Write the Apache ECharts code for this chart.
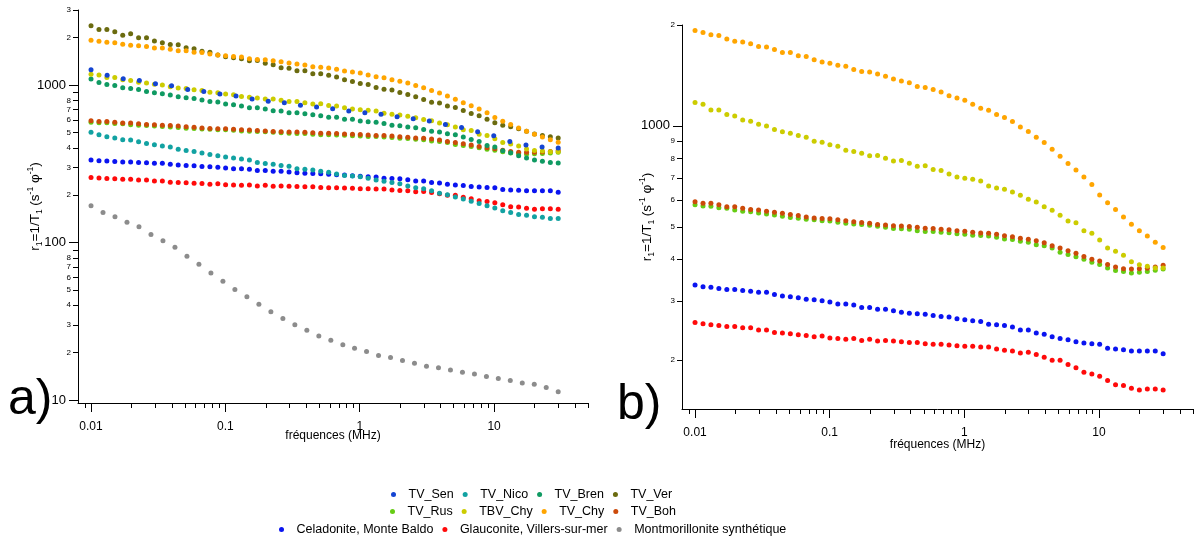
<!DOCTYPE html>
<html><head><meta charset="utf-8">
<script src="https://cdn.jsdelivr.net/npm/echarts@6/dist/echarts.min.js"></script>
<style>html,body{margin:0;padding:0;background:#fff}#c{width:1195px;height:542px}</style>
</head><body><div id="c"></div>
<script>
// ---- frequencies (MHz) ----
const freq60 = [0.01,0.01146,0.01312,0.01503,0.01722,0.01972,0.02259,0.02588,0.02964,0.03396,
  0.0389,0.04456,0.05104,0.05847,0.06697,0.07672,0.08788,0.1004,0.115,0.1318,
  0.151,0.1729,0.1981,0.2269,0.2599,0.2977,0.3411,0.3907,0.4475,0.5126,
  0.5872,0.6726,0.7705,0.8826,1.009,1.155,1.324,1.516,1.737,1.989,
  2.279,2.61,2.99,3.425,3.924,4.495,5.148,5.898,6.756,7.739,
  8.864,10.13,11.6,13.29,15.23,17.44,19.98,22.89,26.22,30];
const freq30 = [0.01,0.01318,0.01737,0.0229,0.03018,0.03977,0.05242,0.06908,0.09105,0.12,
  0.1581,0.2084,0.2747,0.3621,0.4772,0.6289,0.8289,1.092,1.44,1.897,
  2.5,3.295,4.343,5.724,7.544,9.943,13.1,17.27,22.76,30];
const freq40 = [0.01,0.01228,0.01508,0.01852,0.02275,0.02794,0.03431,0.04214,0.05175,0.06356,
  0.07806,0.09587,0.1177,0.1446,0.1776,0.2181,0.2679,0.329,0.404,0.4962,
  0.6094,0.7484,0.915,1.124,1.38,1.695,2.081,2.556,3.139,3.855,
  4.735,5.815,7.142,8.771,10.75,13.2,16.21,19.91,24.44,30];

// ---- r1 values ----
const tvSen = [1251,1157,1096,1071,1019,990,939,912,877,852,
  815,791,772,746,725,707,684,667,652,629,
  611,591,563,539,505,476,439,416,404,398];
const tvNico = [501,484,470,461,449,448,437,426,418,410,
  404,391,385,379,370,363,356,350,345,339,
  334,323,318,314,309,305,294,292,289,284,
  280,273,267,265,262,256,250,245,241,236,
  229,223,220,213,206,201,195,189,183,177,
  171,166,159,155,151,149,146,145,142,142];
const tvBren = [1092,1040,1010,996,961,953,939,912,894,881,
  864,843,831,823,803,788,780,758,750,736,
  718,718,704,687,684,667,667,657,648,638,
  624,624,608,606,591,585,580,571,557,551,
  541,536,523,510,503,491,484,468,452,439,
  414,404,383,372,356,344,335,329,323,320];
const tvVer = [2379,2258,2258,2180,2077,2117,1997,1997,1903,1856,
  1813,1803,1725,1700,1644,1620,1551,1513,1491,1469,
  1427,1435,1379,1346,1288,1282,1232,1232,1183,1180,
  1157,1124,1080,1055,1025,1010,967,943,930,899,
  873,843,811,777,769,736,722,691,661,638,
  606,576,557,543,528,510,489,479,470,461];
const tvRus = [582,577,576,570,568,561,556,554,550,546,
  542,538,533,530,527,525,521,520,516,512,
  510,508,505,502,498,494,493,492,487,484,
  484,482,480,477,475,472,471,469,465,460,
  458,453,450,442,439,432,420,413,407,400,
  392,386,377,370,368,364,366,368,371,374];
const tbvChy = [1174,1161,1116,1116,1081,1071,1042,1033,1012,1000,
  975,960,951,936,925,900,894,878,870,846,
  838,829,815,816,801,786,788,774,758,761,
  741,736,718,704,698,693,685,662,653,647,
  635,621,604,593,574,560,541,520,514,487,
  478,457,432,423,411,393,385,381,377,377];
const tvChy = [1925,1898,1869,1860,1818,1789,1781,1757,1724,1718,
  1690,1655,1655,1618,1610,1574,1552,1539,1518,1507,
  1473,1453,1447,1428,1407,1381,1362,1344,1310,1301,
  1283,1263,1231,1212,1193,1161,1129,1114,1081,1059,
  1030,993,962,925,892,852,812,772,739,704,
  668,622,590,563,535,509,487,469,450,434];
const tvBoh = [594,588,588,582,574,574,568,563,561,556,
  553,549,544,540,535,531,529,528,525,521,
  518,515,512,508,506,504,503,501,498,495,
  494,492,490,487,485,482,479,478,475,470,
  467,462,459,454,448,439,432,424,417,408,
  400,395,386,379,375,374,375,376,379,384];
const celadonite = [335,331,330,327,325,325,323,321,319,319,
  314,311,309,307,304,303,301,298,294,294,
  292,287,287,284,284,281,278,276,275,274,
  272,270,269,266,264,262,261,256,255,254,
  251,246,246,241,239,235,232,230,227,225,
  224,223,217,216,215,213,213,213,213,209];
const glauconite = [259,257,255,254,252,252,250,250,246,246,
  242,241,240,238,237,235,236,233,232,231,
  232,229,231,228,229,228,227,226,226,224,
  223,223,222,221,220,220,219,219,216,214,
  213,210,211,208,204,200,200,194,190,184,
  182,179,174,169,168,165,163,164,164,163];
const montmorillonite = [171.3,155.4,145.8,134.4,125.8,112.7,102.7,93.2,81.8,72.7,
  64.0,56.7,50.4,45.3,40.5,36.4,32.9,30.1,27.7,25.5,
  24.0,22.4,21.3,20.3,19.2,18.6,17.8,17.1,16.4,16.0,
  15.5,15.0,14.6,14.1,13.7,13.3,12.8,12.6,12.0,11.3];

// ---- axis ticks ----
const xMajorTicks = [0.01,0.1,1,10];
const xMinorTicks = [0.009,0.02,0.03,0.04,0.05,0.06,0.07,0.08,0.09,0.2,0.3,0.4,0.5,0.6,0.7,0.8,0.9,2,3,4,5,6,7,8,9,20,30,40,50];
const yLeftMajor = [10,100,1000];
const yLeftMinorTicks = [20,30,40,50,60,70,80,90,200,300,400,500,600,700,800,900,2000,3000];
const yLeftMinorLabels = [20,30,40,50,60,70,80,200,300,400,500,600,700,800,2000,3000];
const yRightMajor = [1000];
const yRightMinorTicks = [200,300,400,500,600,700,800,900,2000];
const yRightMinorLabels = [200,300,400,500,600,700,800,900,2000];

const names = ['TV_Sen','TV_Nico','TV_Bren','TV_Ver','TV_Rus','TBV_Chy','TV_Chy','TV_Boh',
  'Celadonite, Monte Baldo','Glauconite, Villers-sur-mer','Montmorillonite synthétique'];
const colors = {
  'TV_Sen':'#1444d2','TV_Nico':'#12a2a2','TV_Bren':'#0f9a62','TV_Ver':'#6b6b0f',
  'TV_Rus':'#66cc14','TBV_Chy':'#cccc00','TV_Chy':'#ffa500','TV_Boh':'#cc4a0a',
  'Celadonite, Monte Baldo':'#0a14f0','Glauconite, Villers-sur-mer':'#ff0a0a',
  'Montmorillonite synthétique':'#8c8c8c'};

const FONT = '"Liberation Sans", Arial, Helvetica, sans-serif';
const L = Math.log10;
const X_MIN = 0.008, X_MAX = 50;
const YL_MIN = 9.57, YL_MAX = 3000;
const YR_MIN = 143, YR_MAX = 2000;

function pairs(f, v){ return f.map((x,i)=>[x, v[i]]); }
function fmtX(n){ return String(parseFloat(n.toPrecision(2))); }
function fmtBig(n){ return String(Math.round(n)); }
function fmtDigit(n){ const e = Math.floor(L(n) + 1e-9); return String(Math.round(n / Math.pow(10, e))); }

function mainAxis(dir, grid, mn, mx, extra){
  return Object.assign({
    type:'log', logBase:10, gridIndex:grid, min:mn, max:mx,
    position: dir==='x' ? 'bottom' : 'left',
    axisLine:{show:true, onZero:false, lineStyle:{color:'#000', width:1}},
    axisTick:{show:false}, axisLabel:{show:false}, splitLine:{show:false}, minorTick:{show:false}
  }, extra || {});
}
function tickAxis(dir, grid, mn, mx, ticks, labels, len, margin, fs, fmt){
  return {
    type:'value', gridIndex:grid, min:L(mn), max:L(mx),
    position: dir==='x' ? 'bottom' : 'left', offset:0,
    axisLine:{show:false, onZero:false},
    splitLine:{show:false},
    axisTick:{show:true, length:len, customValues: ticks.map(L), lineStyle:{color:'#000', width:1}},
    axisLabel:{show: labels.length > 0, customValues: labels.map(L), margin:margin,
      fontSize:fs, color:'#000', fontFamily:FONT,
      formatter: v => fmt(Math.pow(10, v))}
  };
}

const yName = '{n|r}{s|1}{n|=1/T}{s|1}{n| (s}{p|-1}{n| φ}{p|-1}{n|)}';
const yNameStyle = {
  color:'#000', fontFamily:FONT,
  rich:{
    n:{fontSize:13.5, lineHeight:18, fontFamily:FONT, color:'#000'},
    s:{fontSize:8.5, lineHeight:18, verticalAlign:'bottom', fontFamily:FONT, color:'#000'},
    p:{fontSize:8.5, lineHeight:18, verticalAlign:'top', fontFamily:FONT, color:'#000'}
  }
};
const xNameStyle = {color:'#000', fontSize:12, fontFamily:FONT};

const xAxis = [
  mainAxis('x', 0, X_MIN, X_MAX, {name:'fréquences (MHz)', nameLocation:'middle', nameGap:27, nameTextStyle:xNameStyle}),
  mainAxis('x', 1, X_MIN, X_MAX, {name:'fréquences (MHz)', nameLocation:'middle', nameGap:30, nameTextStyle:xNameStyle}),
  tickAxis('x', 0, X_MIN, X_MAX, xMajorTicks, xMajorTicks, 9, 18, 12, fmtX),
  tickAxis('x', 0, X_MIN, X_MAX, xMinorTicks, [], 5, 8, 8, fmtX),
  tickAxis('x', 1, X_MIN, X_MAX, xMajorTicks, xMajorTicks, 9, 18, 12, fmtX),
  tickAxis('x', 1, X_MIN, X_MAX, xMinorTicks, [], 5, 8, 8, fmtX)
];
const yAxis = [
  mainAxis('y', 0, YL_MIN, YL_MAX, {name:yName, nameLocation:'middle', nameGap:34, nameRotate:90, nameTextStyle:yNameStyle}),
  mainAxis('y', 1, YR_MIN, YR_MAX, {name:yName, nameLocation:'middle', nameGap:26, nameRotate:90, nameTextStyle:yNameStyle}),
  tickAxis('y', 0, YL_MIN, YL_MAX, yLeftMajor, yLeftMajor, 9, 12, 13, fmtBig),
  tickAxis('y', 0, YL_MIN, YL_MAX, yLeftMinorTicks, yLeftMinorLabels, 5, 7, 8, fmtDigit),
  tickAxis('y', 1, YR_MIN, YR_MAX, yRightMajor, yRightMajor, 9, 12, 13, fmtBig),
  tickAxis('y', 1, YR_MIN, YR_MAX, yRightMinorTicks, yRightMinorLabels, 5, 7, 8, fmtDigit)
];

function sc(name, grid, f, v, z){
  return {type:'scatter', name:name, xAxisIndex:grid, yAxisIndex:grid, data:pairs(f, v),
    symbol:'circle', symbolSize:5, itemStyle:{color:colors[name], opacity:1},
    z: z || 2, emphasis:{disabled:true}, silent:true};
}

const series = [
  // panel a
  sc('Montmorillonite synthétique', 0, freq40, montmorillonite),
  sc('Glauconite, Villers-sur-mer', 0, freq60, glauconite),
  sc('Celadonite, Monte Baldo', 0, freq60, celadonite),
  sc('TV_Nico', 0, freq60, tvNico),
  sc('TV_Rus', 0, freq60, tvRus),
  sc('TV_Boh', 0, freq60, tvBoh),
  sc('TV_Bren', 0, freq60, tvBren),
  sc('TBV_Chy', 0, freq60, tbvChy),
  sc('TV_Ver', 0, freq60, tvVer),
  sc('TV_Chy', 0, freq60, tvChy),
  sc('TV_Sen', 0, freq30, tvSen, 3),
  // panel b
  sc('Glauconite, Villers-sur-mer', 1, freq60, glauconite),
  sc('Celadonite, Monte Baldo', 1, freq60, celadonite),
  sc('TV_Rus', 1, freq60, tvRus),
  sc('TV_Boh', 1, freq60, tvBoh),
  sc('TBV_Chy', 1, freq60, tbvChy),
  sc('TV_Chy', 1, freq60, tvChy)
];

const legendCommon = {orient:'horizontal', icon:'circle', itemWidth:20, itemHeight:5, itemGap:9,
  padding:0, selectedMode:false, textStyle:{fontSize:12.5, color:'#000', fontFamily:FONT}};
const legend = [
  Object.assign({data:names.slice(0,4), left:391, top:488}, legendCommon),
  Object.assign({data:names.slice(4,8), left:390, top:505}, legendCommon),
  Object.assign({data:names.slice(8), left:279, top:523}, legendCommon)
];

const chart = echarts.init(document.getElementById('c'), null, {renderer:'canvas'});
chart.setOption({
  animation:false,
  backgroundColor:'#fff',
  textStyle:{fontFamily:FONT},
  grid:[
    {left:78, top:10, width:510, height:393, containLabel:false, outerBoundsMode:'none'},
    {left:682, top:25, width:511, height:384, containLabel:false, outerBoundsMode:'none'}
  ],
  xAxis: xAxis,
  yAxis: yAxis,
  legend: legend,
  series: series,
  graphic:[
    {type:'text', left:8, top:375, style:{text:'a)', fontSize:50, fontFamily:FONT, fill:'#000'}},
    {type:'text', left:617, top:380, style:{text:'b)', fontSize:50, fontFamily:FONT, fill:'#000'}}
  ]
});
</script>
</body></html>
